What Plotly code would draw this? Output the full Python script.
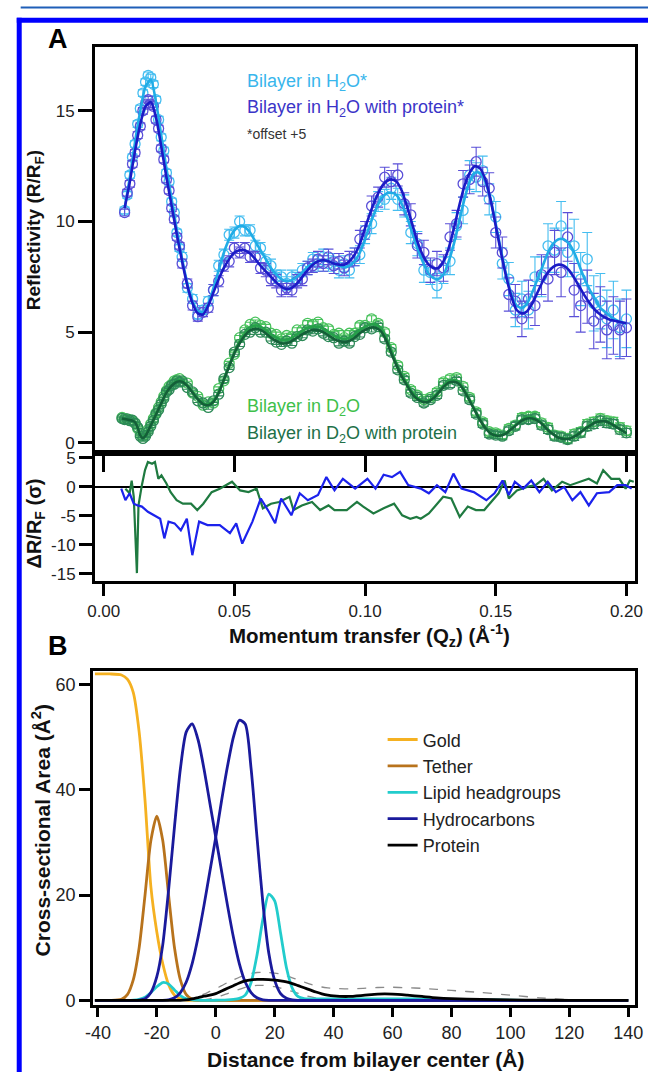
import plotly.graph_objects as go

W, H = 656, 1078
FONT = "Liberation Sans, Arial, Helvetica, sans-serif"

# ---------------- Panel A: reflectivity data (R/RF) ----------------
q_data = [0.007, 0.008, 0.009, 0.010, 0.011, 0.012, 0.013, 0.014, 0.015, 0.016, 0.017, 0.018,
          0.019, 0.020, 0.021, 0.022, 0.023, 0.024, 0.025, 0.026, 0.027, 0.028, 0.029,
          0.030, 0.032, 0.034, 0.036, 0.038, 0.040, 0.042, 0.044, 0.046, 0.048, 0.050, 0.052,
          0.054, 0.056, 0.058, 0.060, 0.062, 0.064, 0.066, 0.068, 0.070, 0.072, 0.074, 0.076,
          0.078, 0.080, 0.082, 0.084, 0.086, 0.088, 0.090, 0.092, 0.094, 0.096, 0.098, 0.100,
          0.1025, 0.105, 0.1075, 0.110, 0.1125, 0.115, 0.1175, 0.120, 0.1225, 0.125, 0.1275,
          0.130, 0.1325, 0.135, 0.1375, 0.140, 0.1425, 0.145, 0.1475, 0.150, 0.1525, 0.155,
          0.1575, 0.160, 0.1625, 0.165, 0.1675, 0.170, 0.1725, 0.175, 0.1775, 0.180, 0.1825,
          0.185, 0.1875, 0.190, 0.1925, 0.195, 0.1975, 0.200]

h2o_data = [None, 10.5, 11.2, 12.1, 12.9, 13.5, 14.4, 15.1, 15.8, 16.3, 16.6, 16.5,
            16.2, 15.5, 14.6, 13.8, 13.2, 12.2, 11.8, 10.9, 10.4, 9.5, 8.8,
            8.4, 7.0, 6.5, 5.8, 6.0, 6.4, 6.9, 8.0, 8.5, 9.4, 9.5, 10.0,
            9.6, 9.6, 8.9, 8.8, 8.2, 8.0, 7.5, 7.5, 7.2, 7.5, 7.4, 7.8,
            7.9, 8.3, 8.1, 8.4, 8.1, 8.2, 7.8, 8.1, 7.8, 8.4, 8.5, 9.4,
            9.9, 10.9, 11.0, 11.5, 11.0, 10.7, 9.5, 9.0, 7.8, 7.7, 7.1,
            7.8, 8.2, 9.8, 10.5, 12.1, 12.0, 12.3, 11.0, 10.2, 8.1, 7.4,
            6.0, 6.5, 6.0, 7.5, 7.5, 8.9, 8.7, 9.8, 8.6, 8.9, 7.4,
            8.3, 6.3, 6.4, 5.6, 6.0, 5.2, 5.6]

h2o_prot_data = [None, 10.4, 11.3, 11.7, 12.6, 13.1, 13.9, 14.3, 15.0, 15.3, 15.5, 15.3,
                 15.2, 14.6, 14.2, 13.3, 12.8, 11.9, 11.4, 10.6, 10.1, 9.3, 8.9,
                 8.1, 7.2, 6.2, 5.7, 5.9, 6.1, 6.9, 7.3, 8.0, 8.2, 8.8, 8.6,
                 8.8, 8.4, 8.4, 7.9, 7.8, 7.4, 7.3, 6.9, 7.0, 6.9, 7.3, 7.4,
                 7.9, 8.0, 8.3, 8.1, 8.4, 8.0, 8.2, 7.9, 8.3, 8.4, 9.2, 9.6,
                 10.7, 11.1, 12.0, 11.8, 12.1, 10.8, 10.3, 8.9, 8.6, 7.8, 8.1,
                 7.9, 9.3, 9.9, 11.7, 11.9, 12.7, 11.8, 11.5, 9.5, 8.6, 6.7,
                 6.4, 5.6, 6.5, 6.2, 7.6, 7.4, 8.6, 7.7, 9.3, 6.9, 6.2,
                 6.6, 5.5, 5.8, 5.1, 5.3, 5.1, 5.2]

err_h2o = [0.15, 0.15, 0.15, 0.15, 0.15, 0.15, 0.15, 0.15, 0.15, 0.15, 0.15, 0.15,
           0.15, 0.15, 0.15, 0.15, 0.15, 0.15, 0.15, 0.15, 0.15, 0.15, 0.15,
           0.2, 0.2, 0.2, 0.2, 0.2, 0.2, 0.25, 0.25, 0.25, 0.25, 0.25, 0.25,
           0.25, 0.25, 0.25, 0.25, 0.3, 0.3, 0.3, 0.3, 0.3, 0.3, 0.3, 0.3,
           0.3, 0.3, 0.35, 0.35, 0.35, 0.35, 0.35, 0.35, 0.35, 0.4, 0.4, 0.4,
           0.45, 0.45, 0.45, 0.5, 0.5, 0.5, 0.5, 0.55, 0.55, 0.55, 0.55,
           0.6, 0.6, 0.6, 0.6, 0.65, 0.65, 0.65, 0.7, 0.7, 0.7, 0.75,
           0.75, 0.8, 0.85, 0.9, 0.9, 1.0, 1.0, 1.1, 1.1, 1.2, 1.2,
           1.2, 1.25, 1.25, 1.3, 1.3, 1.3, 1.3]

d2o_data = [1.15, 1.1, 1.05, 1.05, 0.98, 0.9, 0.65, 0.4, 0.3, 0.4, 0.6, 0.85,
            1.1, 1.35, 1.6, 1.85, 2.1, 2.35, 2.55, 2.65, 2.8, 2.85, 2.9,
            2.75, 2.7, 2.25, 2.1, 1.7, 1.85, 1.8, 2.45, 2.8, 3.6, 4.0, 4.75,
            5.1, 5.35, 5.45, 5.3, 5.25, 4.95, 4.9, 4.7, 4.85, 4.8, 5.1, 5.1,
            5.4, 5.35, 5.45, 5.2, 5.15, 4.9, 4.95, 4.75, 4.95, 4.95, 5.3, 5.3,
            5.6, 5.4, 5.0, 4.3, 3.5, 3.0, 2.4, 2.15, 1.95, 2.05, 2.3,
            2.75, 2.9, 2.95, 2.55, 2.05, 1.4, 0.95, 0.5, 0.45, 0.35, 0.65,
            0.8, 1.15, 1.2, 1.2, 0.9, 0.7, 0.35, 0.3, 0.2, 0.4, 0.5,
            0.85, 0.95, 1.1, 1.0, 0.95, 0.7, 0.55]

d2o_prot_data = [1.1, 1.05, 1.08, 1.0, 1.02, 0.88, 0.7, 0.3, 0.2, 0.3, 0.5, 0.75,
                 1.0, 1.3, 1.5, 1.75, 2.0, 2.3, 2.4, 2.6, 2.65, 2.8, 2.75,
                 2.8, 2.5, 2.3, 1.9, 1.8, 1.6, 1.9, 2.2, 2.9, 3.4, 4.1, 4.45,
                 4.9, 5.0, 5.2, 5.0, 5.0, 4.7, 4.55, 4.45, 4.6, 4.5, 4.8, 4.85,
                 5.1, 5.05, 5.15, 4.95, 4.8, 4.75, 4.5, 4.6, 4.5, 4.8, 4.9, 5.2,
                 5.15, 5.25, 4.7, 4.1, 3.3, 2.85, 2.25, 2.05, 1.8, 1.95, 2.15,
                 2.6, 2.65, 2.8, 2.35, 1.95, 1.3, 0.85, 0.4, 0.35, 0.3, 0.55,
                 0.75, 1.05, 1.05, 1.1, 0.8, 0.6, 0.3, 0.25, 0.15, 0.3, 0.45,
                 0.75, 0.85, 1.0, 0.9, 0.85, 0.6, 0.45]

err_d2o = [0.06, 0.06, 0.06, 0.06, 0.06, 0.06, 0.06, 0.06, 0.06, 0.06, 0.06, 0.06,
           0.06, 0.06, 0.06, 0.06, 0.06, 0.06, 0.06, 0.06, 0.06, 0.06, 0.06,
           0.08, 0.08, 0.08, 0.08, 0.08, 0.08, 0.08, 0.08, 0.08, 0.08, 0.1, 0.1,
           0.1, 0.1, 0.1, 0.1, 0.1, 0.1, 0.1, 0.1, 0.1, 0.1, 0.1, 0.1,
           0.12, 0.12, 0.12, 0.12, 0.12, 0.12, 0.12, 0.12, 0.12, 0.12, 0.12, 0.12,
           0.14, 0.14, 0.14, 0.14, 0.14, 0.14, 0.14, 0.14, 0.14, 0.14, 0.15,
           0.15, 0.15, 0.15, 0.15, 0.15, 0.15, 0.15, 0.16, 0.16, 0.16, 0.16,
           0.17, 0.17, 0.17, 0.17, 0.18, 0.18, 0.18, 0.18, 0.19, 0.19, 0.19,
           0.2, 0.2, 0.2, 0.2, 0.2, 0.2, 0.2]

# model fits
fit_q_h2o = [0.008, 0.010, 0.012, 0.014, 0.016, 0.018, 0.020, 0.022, 0.024, 0.026, 0.028,
             0.030, 0.032, 0.034, 0.036, 0.038, 0.040, 0.042, 0.044, 0.046, 0.048, 0.050,
             0.052, 0.054, 0.056, 0.058, 0.060, 0.062, 0.064, 0.066, 0.068, 0.070, 0.072,
             0.074, 0.076, 0.078, 0.080, 0.082, 0.084, 0.086, 0.088, 0.090, 0.092, 0.094,
             0.096, 0.098, 0.100, 0.102, 0.104, 0.106, 0.108, 0.110, 0.112, 0.114, 0.116,
             0.118, 0.120, 0.122, 0.124, 0.126, 0.128, 0.130, 0.132, 0.134, 0.136, 0.138,
             0.140, 0.142, 0.144, 0.146, 0.148, 0.150, 0.152, 0.154, 0.156, 0.158, 0.160,
             0.162, 0.164, 0.166, 0.168, 0.170, 0.172, 0.174, 0.176, 0.178, 0.180, 0.182,
             0.184, 0.186, 0.188, 0.190, 0.192, 0.194, 0.196, 0.198, 0.200]

fit_h2o = [10.6, 12.0, 13.6, 15.0, 16.1, 16.4, 15.4, 13.9, 12.4, 11.0, 9.6,
           8.3, 7.2, 6.4, 5.95, 5.9, 6.3, 7.0, 7.8, 8.6, 9.2, 9.6,
           9.8, 9.75, 9.5, 9.1, 8.7, 8.3, 7.9, 7.6, 7.4, 7.3, 7.35,
           7.5, 7.7, 7.95, 8.1, 8.2, 8.25, 8.2, 8.1, 8.0, 7.95, 8.0,
           8.2, 8.6, 9.2, 9.9, 10.5, 11.0, 11.25, 11.3, 11.2, 10.8, 10.2,
           9.5, 8.8, 8.2, 7.7, 7.45, 7.4, 7.6, 8.2, 9.0, 10.0, 11.0,
           11.8, 12.2, 12.2, 11.8, 11.0, 9.9, 8.7, 7.6, 6.7, 6.2, 6.1,
           6.3, 6.8, 7.4, 8.0, 8.6, 9.0, 9.2, 9.2, 9.0, 8.6, 8.0,
           7.4, 6.9, 6.5, 6.1, 5.9, 5.7, 5.55, 5.45, 5.4]

fit_h2o_prot = [10.6, 11.8, 13.2, 14.4, 15.2, 15.4, 14.7, 13.4, 12.0, 10.7, 9.4,
                8.2, 7.1, 6.3, 5.85, 5.8, 6.2, 6.8, 7.4, 7.9, 8.3, 8.6,
                8.7, 8.7, 8.55, 8.3, 8.0, 7.75, 7.5, 7.25, 7.05, 6.95, 7.0,
                7.2, 7.5, 7.8, 8.05, 8.2, 8.25, 8.2, 8.1, 8.05, 8.05, 8.2,
                8.5, 9.0, 9.7, 10.4, 11.0, 11.5, 11.8, 11.9, 11.8, 11.4, 10.7,
                9.9, 9.1, 8.5, 8.1, 7.9, 7.9, 8.2, 8.8, 9.7, 10.7, 11.6,
                12.2, 12.5, 12.4, 11.9, 11.0, 9.8, 8.6, 7.5, 6.6, 6.0, 5.85,
                5.95, 6.3, 6.8, 7.3, 7.7, 7.95, 8.05, 8.0, 7.8, 7.45, 7.05,
                6.65, 6.3, 6.0, 5.8, 5.65, 5.55, 5.5, 5.45, 5.4]

fit_q_d2o = [0.007, 0.009, 0.011, 0.012, 0.013, 0.014, 0.015, 0.016,
             0.018, 0.020, 0.022, 0.024, 0.026, 0.028, 0.030, 0.032, 0.034, 0.036,
             0.038, 0.040, 0.042, 0.044, 0.046, 0.048, 0.050, 0.052, 0.054, 0.056,
             0.058, 0.060, 0.062, 0.064, 0.066, 0.068, 0.070, 0.072, 0.074, 0.076,
             0.078, 0.080, 0.082, 0.084, 0.086, 0.088, 0.090, 0.092, 0.094, 0.096,
             0.098, 0.100, 0.102, 0.104, 0.106, 0.108, 0.110, 0.112, 0.114, 0.116,
             0.118, 0.120, 0.122, 0.124, 0.126, 0.128, 0.130, 0.132, 0.134, 0.136,
             0.138, 0.140, 0.142, 0.144, 0.146, 0.148, 0.150, 0.152, 0.154, 0.156,
             0.158, 0.160, 0.162, 0.164, 0.166, 0.168, 0.170, 0.172, 0.174, 0.176,
             0.178, 0.180, 0.182, 0.184, 0.186, 0.188, 0.190, 0.192, 0.194, 0.196,
             0.198, 0.200]

fit_d2o = [1.1, 1.05, 1.0, 0.95, 0.7, 0.35, 0.25, 0.35,
           0.8, 1.3, 1.8, 2.3, 2.6, 2.8, 2.8, 2.6, 2.3, 2.0,
           1.8, 1.75, 1.9, 2.3, 2.9, 3.5, 4.1, 4.6, 4.95, 5.2,
           5.3, 5.25, 5.1, 4.9, 4.75, 4.65, 4.65, 4.75, 4.9, 5.05,
           5.2, 5.25, 5.25, 5.15, 5.0, 4.85, 4.75, 4.7, 4.75, 4.9,
           5.1, 5.25, 5.35, 5.35, 5.2, 4.8, 4.2, 3.6, 3.1, 2.7,
           2.3, 2.05, 1.9, 1.9, 2.05, 2.3, 2.6, 2.8, 2.85, 2.75,
           2.4, 1.95, 1.5, 1.05, 0.7, 0.45, 0.35, 0.35, 0.45, 0.65,
           0.85, 1.05, 1.15, 1.15, 1.05, 0.85, 0.6, 0.4, 0.25, 0.2,
           0.2, 0.3, 0.45, 0.65, 0.8, 0.95, 1.0, 1.0, 0.9, 0.75,
           0.6, 0.45]

fit_d2o_prot = [1.1, 1.05, 1.0, 0.93, 0.68, 0.33, 0.22, 0.32,
                0.78, 1.28, 1.78, 2.27, 2.58, 2.76, 2.76, 2.57, 2.27, 1.97,
                1.75, 1.7, 1.85, 2.25, 2.85, 3.45, 4.05, 4.5, 4.85, 5.08,
                5.15, 5.1, 4.95, 4.75, 4.6, 4.5, 4.5, 4.6, 4.75, 4.9,
                5.03, 5.1, 5.08, 5.0, 4.85, 4.7, 4.6, 4.55, 4.6, 4.75,
                4.95, 5.1, 5.2, 5.2, 5.05, 4.65, 4.05, 3.5, 3.0, 2.6,
                2.22, 1.98, 1.85, 1.85, 2.0, 2.25, 2.52, 2.72, 2.76, 2.66,
                2.33, 1.9, 1.45, 1.02, 0.67, 0.43, 0.33, 0.33, 0.43, 0.62,
                0.82, 1.0, 1.1, 1.1, 1.0, 0.82, 0.57, 0.38, 0.23, 0.18,
                0.18, 0.28, 0.43, 0.62, 0.77, 0.92, 0.97, 0.97, 0.87, 0.72,
                0.58, 0.43]

# normalized residuals (protein vs. bilayer)
res_h2o_q = [0.0067, 0.0083, 0.0099, 0.0115, 0.0130, 0.0146, 0.0169, 0.0193, 0.0216, 0.0232,
             0.0248, 0.0271, 0.0295, 0.0318, 0.0339, 0.0365, 0.0397, 0.0444, 0.0483, 0.0507,
             0.0530, 0.0569, 0.0601, 0.0632, 0.0656, 0.0679, 0.0718, 0.0750, 0.0781, 0.0820,
             0.0852, 0.0883, 0.0915, 0.0962, 0.1009, 0.1040, 0.1071, 0.1103, 0.1134, 0.1165,
             0.1213, 0.1244, 0.1275, 0.1307, 0.1338, 0.1369, 0.1416, 0.1464, 0.1495, 0.1526,
             0.1550, 0.1573, 0.1605, 0.1636, 0.1667, 0.1699, 0.1730, 0.1762, 0.1793, 0.1824,
             0.1856, 0.1887, 0.1934, 0.1965, 0.1997, 0.2020]
res_h2o = [-0.3, -2.3, -1.1, -2.9, -3.2, -3.4, -4.3, -4.9, -5.5, -8.9,
           -6.0, -6.3, -7.5, -5.5, -11.8, -6.0, -6.6, -6.6, -8.0, -6.3,
           -9.8, -6.0, -2.0, -4.3, -6.3, -2.0, -4.9, -1.1, -2.3, -1.4,
           1.7, -0.6, 1.4, -0.3, 1.4, -0.3, 2.1, 1.7, 2.6, 0.3,
           -0.3, -1.1, 0.3, -0.9, 2.3, -0.3, -0.9, -2.3, -1.1, 1.1,
           -1.4, 0.9, -0.3, 1.1, -0.9, 0.9, -0.9, 0.0, -2.3, -0.9,
           -3.2, -1.1, -0.9, 0.3, 0.3, -0.3]

res_d2o_q = [0.0083, 0.0099, 0.0107, 0.0115, 0.0127, 0.0133, 0.0146, 0.0158, 0.0169, 0.0185,
             0.0196, 0.0209, 0.0221, 0.0240, 0.0256, 0.0279, 0.0303, 0.0334, 0.0358, 0.0381,
             0.0413, 0.0444, 0.0491, 0.0522, 0.0554, 0.0585, 0.0609, 0.0640, 0.0671, 0.0711,
             0.0726, 0.0758, 0.0797, 0.0828, 0.0860, 0.0883, 0.0930, 0.0969, 0.0993, 0.1032,
             0.1071, 0.1111, 0.1142, 0.1173, 0.1197, 0.1213, 0.1244, 0.1275, 0.1299, 0.1330,
             0.1362, 0.1393, 0.1424, 0.1456, 0.1487, 0.1511, 0.1534, 0.1550, 0.1581, 0.1620,
             0.1652, 0.1683, 0.1715, 0.1754, 0.1785, 0.1824, 0.1856, 0.1887, 0.1911, 0.1942,
             0.1973, 0.1997, 0.2013, 0.2028]
res_d2o = [-0.3, -1.1, 1.1, -1.7, -14.9, -3.2, 0.3, 2.9, 4.3, 4.0,
           4.3, 1.4, 2.0, 0.6, -0.9, -2.3, -2.9, -2.9, -4.0, -2.9,
           -0.9, -0.3, 0.9, -0.6, -0.9, -0.3, -3.7, -2.9, -2.6, -1.7,
           -4.0, -3.2, -2.6, -4.0, -3.2, -4.0, -4.0, -2.6, -3.4, -4.6,
           -3.7, -2.9, -4.9, -5.5, -5.2, -5.5, -4.6, -2.9, -1.7, -2.0,
           -5.2, -3.4, -4.0, -4.0, -2.3, -1.1, 1.1, -2.0, -0.6, 0.0,
           0.3, 1.4, -0.6, 0.9, 0.3, 0.9, 1.4, 0.6, 2.9, 1.4,
           1.4, -0.3, 1.1, 0.9]

# ---------------- Panel B: component volume profiles ----------------
z = [-41, -36, -32, -30, -28, -26, -24, -22, -20, -18, -16, -14, -12, -10, -8, -6, -4, -2,
     0, 2, 4, 6, 8, 10, 12, 14, 16, 18, 20, 22, 24, 26, 28, 30, 32, 34, 36, 38, 40,
     45, 50, 55, 60, 65, 70, 75, 80, 90, 100, 110, 120, 130, 140]

gold = [62.0, 62.0, 61.8, 61.0, 58.5, 51.0, 38.0, 21.5, 13.0, 7.0, 3.0, 1.0, 0.3, 0.05, 0, 0, 0, 0,
        0, 0, 0, 0, 0, 0, 0, 0, 0, 0, 0, 0, 0, 0, 0, 0, 0, 0, 0, 0, 0,
        0, 0, 0, 0, 0, 0, 0, 0, 0, 0, 0, 0, 0, 0]
tether = [0, 0, 0.2, 1.1, 3.9, 10.0, 20.0, 30.4, 35.0, 30.4, 20.0, 10.0, 3.9, 1.1, 0.2, 0, 0, 0,
          0, 0, 0, 0, 0, 0, 0, 0, 0, 0, 0, 0, 0, 0, 0, 0, 0, 0, 0, 0, 0,
          0, 0, 0, 0, 0, 0, 0, 0, 0, 0, 0, 0, 0, 0]
headgroups = [0, 0, 0, 0, 0.05, 0.2, 0.6, 1.5, 2.6, 3.4, 3.1, 2.0, 0.9, 0.3, 0.1, 0.05, 0.02, 0.02,
              0.03, 0.05, 0.1, 0.2, 0.4, 1.0, 3.4, 8.6, 15.4, 20.2, 18.9, 12.8, 6.2, 2.3, 0.7, 0.35,
              0.3, 0.3, 0.3, 0.3, 0.3,
              0.3, 0.3, 0.3, 0.3, 0.3, 0.25, 0.2, 0.15, 0.1, 0.05, 0, 0, 0, 0]
hc_inner = [0, 0, 0, 0, 0, 0.05, 0.3, 1.5, 4.5, 10.5, 21.0, 33.0, 44.0, 51.0, 52.5, 49.5, 44.0, 37.5,
            31.0, 24.5, 18.0, 12.0, 7.0, 3.5, 1.5, 0.5, 0.1, 0, 0, 0, 0, 0, 0, 0, 0, 0, 0, 0, 0,
            0, 0, 0, 0, 0, 0, 0, 0, 0, 0, 0, 0, 0, 0]
hc_outer = [0, 0, 0, 0, 0, 0, 0, 0, 0, 0, 0.1, 0.5, 1.5, 3.5, 7.0, 12.0, 18.0, 24.5,
            31.0, 38.0, 44.5, 50.0, 53.2, 52.5, 44.0, 31.0, 18.5, 9.0, 3.8, 1.3, 0.4, 0.1, 0, 0,
            0, 0, 0, 0, 0,
            0, 0, 0, 0, 0, 0, 0, 0, 0, 0, 0, 0, 0, 0]
protein = [0, 0, 0, 0, 0, 0, 0, 0, 0, 0, 0, 0, 0, 0.1, 0.3, 0.55, 0.8, 1.0,
           1.3, 1.8, 2.3, 2.8, 3.3, 3.7, 3.9, 4.0, 4.0, 3.95, 3.85, 3.7, 3.5, 3.2, 2.8, 2.4,
           2.0, 1.6, 1.25, 1.0, 0.85,
           0.75, 0.95, 1.2, 1.2, 1.0, 0.75, 0.5, 0.35, 0.2, 0.1, 0.05, 0.02, 0, 0]
protein_hi = [0, 0, 0, 0, 0, 0, 0, 0, 0, 0, 0, 0, 0, 0.15, 0.4, 0.8, 1.2, 1.7,
              2.2, 2.8, 3.4, 3.9, 4.4, 4.8, 5.1, 5.3, 5.35, 5.3, 5.2, 5.0, 4.7, 4.3, 3.9, 3.5,
              3.1, 2.8, 2.55, 2.4, 2.3,
              2.2, 2.3, 2.45, 2.5, 2.4, 2.3, 2.1, 1.9, 1.5, 1.0, 0.5, 0.15, 0, 0]
protein_lo = [0, 0, 0, 0, 0, 0, 0, 0, 0, 0, 0, 0, 0, 0, 0, 0, 0.1, 0.3,
              0.6, 0.9, 1.3, 1.7, 2.1, 2.5, 2.75, 2.85, 2.85, 2.75, 2.6, 2.35, 2.05, 1.7, 1.35, 1.0,
              0.7, 0.45, 0.3, 0.2, 0.15,
              0.1, 0.1, 0.2, 0.2, 0.15, 0.1, 0.05, 0, 0, 0, 0, 0, 0, 0]

for arr in (h2o_data, h2o_prot_data, err_h2o, d2o_data, d2o_prot_data, err_d2o):
    assert len(arr) == len(q_data), len(arr)
for arr in (fit_h2o, fit_h2o_prot):
    assert len(arr) == len(fit_q_h2o), len(arr)
for arr in (fit_d2o, fit_d2o_prot):
    assert len(arr) == len(fit_q_d2o), len(arr)
assert len(res_h2o) == len(res_h2o_q) and len(res_d2o) == len(res_d2o_q)
for arr in (gold, tether, headgroups, hc_inner, hc_outer, protein, protein_hi, protein_lo):
    assert len(arr) == len(z), len(arr)

# tick labels
q_ticks = [0, 0.05, 0.10, 0.15, 0.20]
q_ticktext = ["0.00", "0.05", "0.10", "0.15", "0.20"]
res_ticks = [5, 0, -5, -10, -15]
res_ticktext = ["5", "0", "-5", "-10", "-15"]
z_ticks = [-40, -20, 0, 20, 40, 60, 80, 100, 120, 140]
z_ticktext = ["-40", "-20", "0", "20", "40", "60", "80", "100", "120", "140"]

# colours
C_H2O, C_H2O_FIT = "#45bdf0", "#20ace6"
C_PROT, C_PROT_FIT = "#5a4fd8", "#1b1bc6"
C_D2O, C_D2O_FIT = "#48c25c", "#26a04a"
C_D2OP, C_D2OP_FIT = "#2e8a58", "#145f38"

fig = go.Figure()


def data_trace(y, err, color, xa, ya):
    return go.Scatter(x=q_data, y=y, mode="markers", xaxis=xa, yaxis=ya, showlegend=False,
                      marker=dict(symbol="circle-open", size=10, color=color,
                                  line=dict(width=1.3, color=color)),
                      error_y=dict(type="data", array=err, thickness=1.1, width=5, color=color))


def line_trace(x, y, color, xa, ya, width=2.6, dash=None, name=None, show=False, group=None):
    return go.Scatter(x=x, y=y, mode="lines", xaxis=xa, yaxis=ya, name=name, showlegend=show,
                      legendgroup=group,
                      line=dict(color=color, width=width, dash=dash, shape="spline", smoothing=0.7))


fig.add_trace(data_trace(h2o_data, err_h2o, C_H2O, "x", "y"))
fig.add_trace(data_trace(h2o_prot_data, err_h2o, C_PROT, "x", "y"))
fig.add_trace(data_trace(d2o_data, err_d2o, C_D2O, "x", "y"))
fig.add_trace(data_trace(d2o_prot_data, err_d2o, C_D2OP, "x", "y"))
fig.add_trace(line_trace(fit_q_h2o, fit_h2o, C_H2O_FIT, "x", "y"))
fig.add_trace(line_trace(fit_q_h2o, fit_h2o_prot, C_PROT_FIT, "x", "y"))
fig.add_trace(line_trace(fit_q_d2o, fit_d2o, C_D2O_FIT, "x", "y"))
fig.add_trace(line_trace(fit_q_d2o, fit_d2o_prot, C_D2OP_FIT, "x", "y"))

fig.add_trace(go.Scatter(x=res_d2o_q, y=res_d2o, mode="lines", xaxis="x2", yaxis="y2",
                         showlegend=False, line=dict(color="#1f7a40", width=2.2)))
fig.add_trace(go.Scatter(x=res_h2o_q, y=res_h2o, mode="lines", xaxis="x2", yaxis="y2",
                         showlegend=False, line=dict(color="#1c22ec", width=2.2)))

fig.add_trace(line_trace(z, protein_hi, "#8a8a8a", "x3", "y3", width=1.3, dash="dash"))
fig.add_trace(line_trace(z, protein_lo, "#8a8a8a", "x3", "y3", width=1.3, dash="dash"))
fig.add_trace(line_trace(z, gold, "#f5b121", "x3", "y3", width=2.8, name="Gold", show=True))
fig.add_trace(line_trace(z, tether, "#b8731c", "x3", "y3", width=2.8, name="Tether", show=True))
fig.add_trace(line_trace(z, headgroups, "#22cccc", "x3", "y3", width=2.8,
                         name="Lipid headgroups", show=True))
fig.add_trace(line_trace(z, hc_inner, "#1a1a9c", "x3", "y3", width=2.8,
                         name="Hydrocarbons", show=True, group="hc"))
fig.add_trace(line_trace(z, hc_outer, "#1a1a9c", "x3", "y3", width=2.8, group="hc"))
fig.add_trace(line_trace(z, protein, "#000000", "x3", "y3", width=2.8, name="Protein", show=True))


def px(x):
    # pixel column -> paper fraction
    return x / W


def py(y):
    # pixel row -> paper fraction
    return 1 - y / H


tickfont = dict(family=FONT, size=17, color="#222")
frame = dict(showline=True, linewidth=2.5, linecolor="black", mirror=True, showgrid=False,
             zeroline=False, ticks="outside", tickwidth=2.5, tickcolor="black", tickfont=tickfont)
frame_b = {**frame, "tickfont": dict(family=FONT, size=18, color="#222")}
frame_res = {**frame, "zeroline": True, "zerolinecolor": "black", "zerolinewidth": 1.6}

fig.update_layout(
    width=W, height=H, margin=dict(l=0, r=0, t=0, b=0),
    paper_bgcolor="white", plot_bgcolor="white",
    font=dict(family=FONT, color="#222"),
    xaxis=dict(domain=[px(89), px(643)], range=[-0.0034, 0.2034], anchor="y",
               tickvals=q_ticks, showticklabels=False, ticklen=16, **frame),
    yaxis=dict(domain=[py(453), py(43)], range=[-0.45, 17.9], anchor="x",
               tickvals=[0, 5, 10, 15], ticklen=14, **frame),
    xaxis2=dict(domain=[px(89), px(643)], range=[-0.0034, 0.2034], anchor="y2",
                tickvals=q_ticks, ticktext=q_ticktext, ticklen=13, **frame),
    yaxis2=dict(domain=[py(582), py(453)], range=[-16.2, 5.9], anchor="x2",
                tickvals=res_ticks, ticktext=res_ticktext, ticklen=13, **frame_res),
    xaxis3=dict(domain=[px(87), px(643)], range=[-41.7, 142.4], anchor="y3",
                tickvals=z_ticks, ticktext=z_ticktext, ticklen=10, **frame_b),
    yaxis3=dict(domain=[py(1010), py(673)], range=[-0.8, 62.6], anchor="x3",
                tickvals=[0, 20, 40, 60], ticklen=11, **frame_b),
    legend=dict(x=px(384), y=py(724), xanchor="left", yanchor="top",
                bgcolor="rgba(0,0,0,0)", font=dict(family=FONT, size=18, color="#222"),
                tracegroupgap=0, itemwidth=30),
)

ann = [
    dict(x=px(51), y=py(35), text="<b>A</b>", font=dict(family=FONT, size=27, color="black")),
    dict(x=px(51), y=py(648), text="<b>B</b>", font=dict(family=FONT, size=27, color="black")),
    dict(x=px(28), y=py(228), text="<b>Reflectivity (R/R<sub>F</sub>)</b>", textangle=-90,
         font=dict(family=FONT, size=19, color="#111")),
    dict(x=px(28), y=py(524), text="<b>ΔR/R<sub>F</sub> (σ)</b>", textangle=-90,
         font=dict(family=FONT, size=20, color="#111")),
    dict(x=px(371), y=py(637), text="<b>Momentum transfer (Q<sub>z</sub>) (Å<sup>-1</sup>)</b>",
         font=dict(family=FONT, size=20.5, color="#111")),
    dict(x=px(34), y=py(834), text="<b>Cross-sectional Area (Å<sup>2</sup>)</b>", textangle=-90,
         font=dict(family=FONT, size=21, color="#111")),
    dict(x=px(366), y=py(1065), text="<b>Distance from bilayer center (Å)</b>",
         font=dict(family=FONT, size=21, color="#111")),
    dict(x=px(243), y=py(79), xanchor="left", text="Bilayer in H<sub>2</sub>O*",
         font=dict(family=FONT, size=18, color="#38b6ec")),
    dict(x=px(243), y=py(105), xanchor="left", text="Bilayer in H<sub>2</sub>O with protein*",
         font=dict(family=FONT, size=18, color="#3b35c8")),
    dict(x=px(243), y=py(131), xanchor="left", text="*offset +5",
         font=dict(family=FONT, size=14, color="#333")),
    dict(x=px(243), y=py(407), xanchor="left", text="Bilayer in D<sub>2</sub>O",
         font=dict(family=FONT, size=18, color="#3ec04a")),
    dict(x=px(243), y=py(435), xanchor="left", text="Bilayer in D<sub>2</sub>O with protein",
         font=dict(family=FONT, size=18, color="#217048")),
]
for a in ann:
    a.setdefault("xanchor", "center")
    a.update(xref="paper", yref="paper", yanchor="middle", showarrow=False)
fig.update_layout(annotations=ann)

# page frame lines
fig.update_layout(shapes=[
    dict(type="line", xref="paper", yref="paper", x0=px(13), x1=1, y0=py(3.5), y1=py(3.5),
         line=dict(color="#1f5fb8", width=2)),
    dict(type="line", xref="paper", yref="paper", x0=px(9), x1=1, y0=py(16.5), y1=py(16.5),
         line=dict(color="#0000ff", width=5)),
    dict(type="line", xref="paper", yref="paper", x0=px(11.5), x1=px(11.5), y0=0, y1=py(14),
         line=dict(color="#0000ff", width=5)),
])

fig.write_html("out.html")
